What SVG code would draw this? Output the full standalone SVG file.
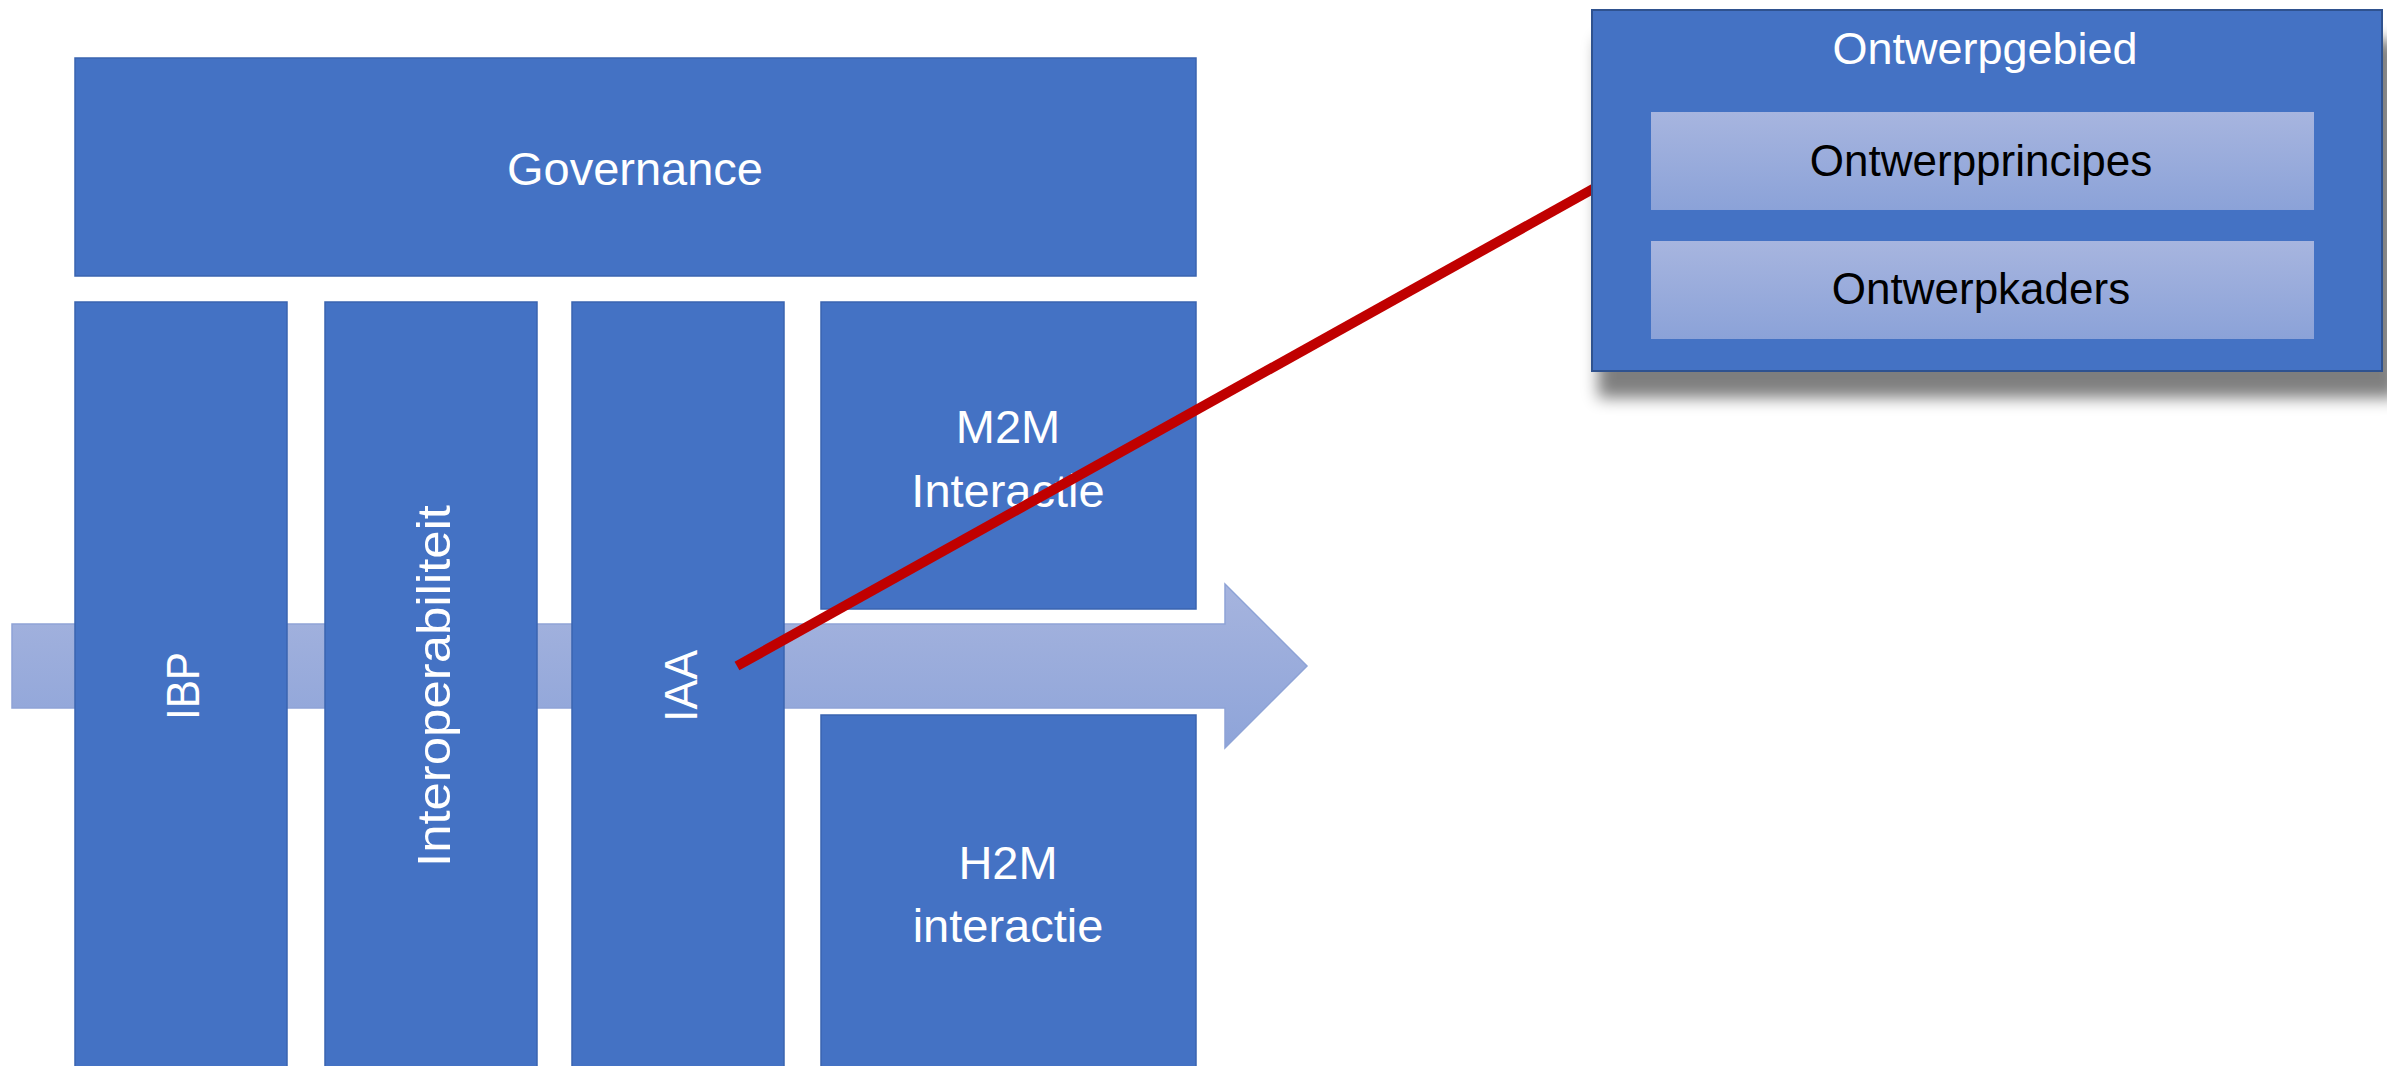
<svg xmlns="http://www.w3.org/2000/svg" width="2387" height="1066" viewBox="0 0 2387 1066">
  <defs>
    <linearGradient id="lightGrad" x1="0" y1="0" x2="0" y2="1">
      <stop offset="0" stop-color="#A7B5DF"/>
      <stop offset="1" stop-color="#8BA2D8"/>
    </linearGradient>
    <linearGradient id="arrowGrad" x1="0" y1="0" x2="0" y2="1">
      <stop offset="0" stop-color="#A6B4DE"/>
      <stop offset="1" stop-color="#8EA4D9"/>
    </linearGradient>
    <filter id="shadow" x="-10%" y="-20%" width="120%" height="150%">
      <feGaussianBlur stdDeviation="8"/>
    </filter>
    <style>
      .blk { fill: #4472C4; stroke: #3A64B0; stroke-width: 1.5; }
      .inner { fill: url(#lightGrad); }
      .wt { font-family: "Liberation Sans", Arial, sans-serif; font-size: 47px; fill: #FFFFFF; text-anchor: middle; }
      .bt { font-family: "Liberation Sans", Arial, sans-serif; font-size: 44px; fill: #000000; text-anchor: middle; }
      .vt { font-family: "Liberation Sans", Arial, sans-serif; font-size: 47px; fill: #FFFFFF; text-anchor: middle; }
    </style>
  </defs>
  <rect width="2387" height="1066" fill="#FFFFFF"/>

  <g id="flow-arrow">
    <path d="M12,624 L1225,624 L1225,584 L1307,666 L1225,748 L1225,708 L12,708 Z" fill="url(#arrowGrad)" stroke="#8EA3D6" stroke-width="1.5"/>
  </g>

  <g id="governance">
    <rect class="blk" x="75" y="58" width="1121" height="218"/>
    <text class="wt" x="635" y="185">Governance</text>
  </g>

  <g id="ibp">
    <rect class="blk" x="75" y="302" width="212" height="780"/>
    <text class="vt" transform="translate(199,686) rotate(-90)" textLength="68" lengthAdjust="spacingAndGlyphs">IBP</text>
  </g>

  <g id="interoperabiliteit">
    <rect class="blk" x="325" y="302" width="212" height="780"/>
    <text class="vt" transform="translate(450,686) rotate(-90)" textLength="362" lengthAdjust="spacingAndGlyphs">Interoperabiliteit</text>
  </g>

  <g id="iaa">
    <rect class="blk" x="572" y="302" width="212" height="780"/>
    <text class="vt" transform="translate(697,686) rotate(-90)" textLength="72" lengthAdjust="spacingAndGlyphs">IAA</text>
  </g>

  <g id="m2m">
    <rect class="blk" x="821" y="302" width="375" height="307"/>
    <text class="wt" x="1008" y="443">M2M</text>
    <text class="wt" x="1008" y="507">Interactie</text>
  </g>

  <g id="h2m">
    <rect class="blk" x="821" y="715" width="375" height="370"/>
    <text class="wt" x="1008" y="879">H2M</text>
    <text class="wt" x="1008" y="942">interactie</text>
  </g>

  <g id="connectors">
    <line x1="737" y1="666" x2="1600" y2="185" stroke="#C00000" stroke-width="10"/>
  </g>

  <g id="ontwerpgebied">
    <rect x="1598" y="40" width="800" height="358" fill="#000000" opacity="0.5" filter="url(#shadow)"/>
    <rect x="1592" y="10" width="790" height="361" fill="#4472C4" stroke="#2F528F" stroke-width="2"/>
    <text class="wt" x="1985" y="64" style="font-size:45px">Ontwerpgebied</text>
    <g id="ontwerpprincipes">
      <rect class="inner" x="1651" y="112" width="663" height="98"/>
      <text class="bt" x="1981" y="176">Ontwerpprincipes</text>
    </g>
    <g id="ontwerpkaders">
      <rect class="inner" x="1651" y="241" width="663" height="98"/>
      <text class="bt" x="1981" y="304">Ontwerpkaders</text>
    </g>
  </g>
</svg>
